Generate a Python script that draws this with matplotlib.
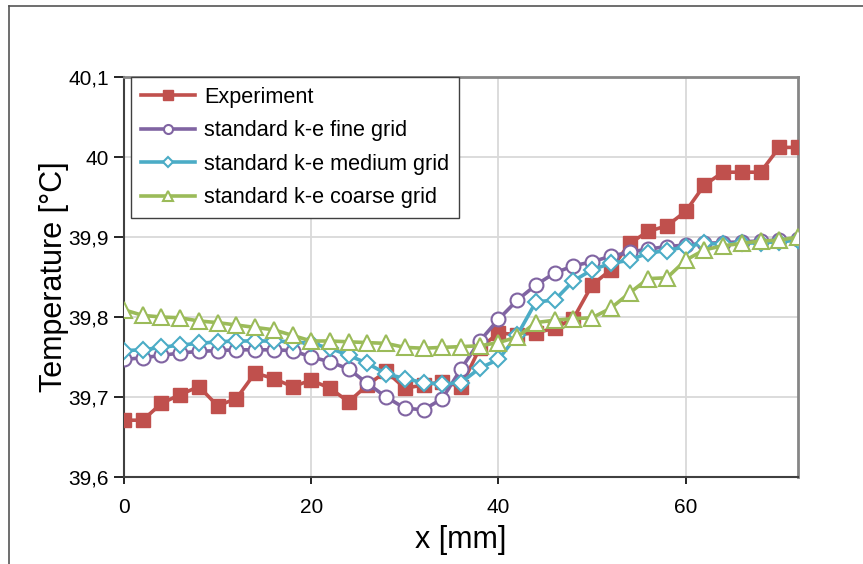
import matplotlib.pyplot as plt
from matplotlib.lines import Line2D
from matplotlib.ticker import FuncFormatter

plt.rcParams['font.family'] = ['Liberation Sans', 'DejaVu Sans']

# posiciones x [mm]
x_mm = list(range(0, 74, 2))

t_experiment = [39.671, 39.671, 39.692, 39.703, 39.713, 39.689, 39.698, 39.730, 39.723, 39.713,
                39.721, 39.711, 39.694, 39.715, 39.732, 39.711, 39.715, 39.719, 39.713, 39.761,
                39.780, 39.778, 39.780, 39.786, 39.798, 39.840, 39.859, 39.892, 39.907, 39.914,
                39.932, 39.965, 39.981, 39.981, 39.981, 40.012, 40.012]
t_fine = [39.747, 39.749, 39.752, 39.755, 39.757, 39.758, 39.759, 39.759, 39.759, 39.758,
          39.750, 39.744, 39.735, 39.717, 39.700, 39.686, 39.684, 39.698, 39.735, 39.770,
          39.797, 39.821, 39.840, 39.855, 39.864, 39.869, 39.876, 39.881, 39.885, 39.888,
          39.890, 39.892, 39.893, 39.894, 39.895, 39.896, 39.897]
t_medium = [39.758, 39.759, 39.762, 39.765, 39.767, 39.769, 39.770, 39.770, 39.770, 39.769,
            39.767, 39.761, 39.752, 39.742, 39.729, 39.723, 39.718, 39.716, 39.718, 39.736,
            39.747, 39.777, 39.819, 39.821, 39.845, 39.859, 39.867, 39.871, 39.880, 39.883,
            39.888, 39.892, 39.891, 39.892, 39.893, 39.894, 39.896]
t_coarse = [39.809, 39.802, 39.800, 39.799, 39.795, 39.793, 39.790, 39.787, 39.784, 39.777,
            39.770, 39.770, 39.769, 39.768, 39.767, 39.762, 39.761, 39.762, 39.763, 39.764,
            39.768, 39.775, 39.793, 39.796, 39.798, 39.799, 39.811, 39.830, 39.848, 39.849,
            39.871, 39.884, 39.889, 39.892, 39.895, 39.896, 39.900]

labels = ["Experiment", "standard k-e fine grid", "standard k-e medium grid", "standard k-e coarse grid"]
colors = ['#C0504D', '#8064A2', '#4BACC6', '#9BBB59']

fig = plt.figure(figsize=(8.63, 5.64), dpi=100)
ax = fig.add_axes([124 / 863, 87 / 564, 674 / 863, 400 / 564])

# marco exterior (solo bordes izquierdo y superior visibles)
fig.add_artist(Line2D([9 / 863, 9 / 863], [0, 1 - 6 / 564], color='#555555', lw=1.2))
fig.add_artist(Line2D([9 / 863, 1], [1 - 6 / 564, 1 - 6 / 564], color='#555555', lw=1.2))

ax.plot(x_mm, t_experiment, marker='s', color=colors[0], lw=2.6, markersize=10.5,
        label=labels[0], zorder=3)
ax.plot(x_mm, t_fine, marker='o', color=colors[1], lw=2.6, markersize=10,
        markerfacecolor='white', markeredgewidth=1.5, label=labels[1], zorder=4)
ax.plot(x_mm, t_medium, marker='D', color=colors[2], lw=2.6, markersize=8.5,
        markerfacecolor='white', markeredgewidth=1.5, label=labels[2], zorder=5)
ax.plot(x_mm, t_coarse, marker='^', color=colors[3], lw=2.6, markersize=11,
        markerfacecolor='white', markeredgewidth=1.5, label=labels[3], zorder=6)

ax.set_xlim(0, 72)
ax.set_ylim(39.6, 40.1)
ax.set_xticks([0, 20, 40, 60])
ax.set_yticks([39.6, 39.7, 39.8, 39.9, 40.0, 40.1])
ax.yaxis.set_major_formatter(FuncFormatter(lambda v, p: f'{v:g}'.replace('.', ',')))

ax.grid(True, color='#D9D9D9', lw=1.3)
ax.set_axisbelow(True)
ax.tick_params(axis='both', labelsize=15, colors='black', width=1.2)
ax.tick_params(axis='y', length=7, pad=4)
ax.tick_params(axis='x', length=5, pad=10)

for s in ['left', 'bottom']:
    ax.spines[s].set_color('#404040')
    ax.spines[s].set_linewidth(1.5)
for s in ['top', 'right']:
    ax.spines[s].set_color('#868686')
    ax.spines[s].set_linewidth(2)

ax.set_xlabel('x [mm]', fontsize=22, labelpad=6)
ax.set_ylabel('Temperature [°C]', fontsize=22, labelpad=-1)

leg = ax.legend(loc='upper left', bbox_to_anchor=(0.011, 1.0), fontsize=15.6, frameon=True,
                fancybox=False, edgecolor='#404040', framealpha=1, borderaxespad=0,
                handlelength=2.5, handletextpad=0.4, labelspacing=0.58, markerscale=0.65,
                borderpad=0.45)
leg.get_frame().set_linewidth(1.0)

plt.savefig('out.png', dpi=100)
